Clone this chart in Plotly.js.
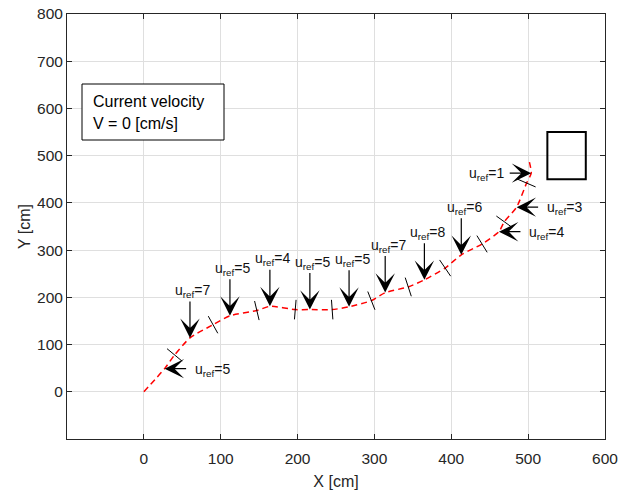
<!DOCTYPE html>
<html>
<head>
<meta charset="utf-8">
<script src="https://cdn.plot.ly/plotly-3.0.1.min.js"></script>
<style>
  html, body { margin: 0; padding: 0; background: #ffffff; }
  #chart { width: 621px; height: 491px; }
</style>
</head>
<body>
<div id="chart"></div>
<script>
// Vehicle trajectory (cm)
const pathX = [0, 27, 40, 60, 90, 112, 147, 164, 197, 216, 245, 267, 296, 314, 344, 365, 392, 413, 440, 462, 469, 485, 498, 504, 501];
const pathY = [0, 49, 78, 114, 142, 161, 172, 181, 174, 174, 174, 180, 193, 210, 222, 237, 262, 290, 313, 339, 360, 391, 442, 463, 491];

// Boundaries between trajectory segments
const segX = [40, 90, 147, 197, 245, 296, 344, 392, 440, 469, 498];
const segY = [78, 142, 172, 174, 174, 193, 222, 262, 313, 360, 442];

// Reference speed command issued at each point
const refX = [27, 60, 112, 164, 216, 267, 314, 365, 413, 462, 485, 504];
const refY = [49, 114, 161, 181, 174, 180, 210, 237, 290, 339, 391, 463];
const uRef = [5, 7, 5, 4, 5, 5, 7, 8, 6, 4, 3, 1];

// Target zone
const targetX = [525, 575];
const targetY = [450, 550];

// Axes
const xRange = [-100, 600];
const yRange = [-100, 800];
const xTicks = [0, 100, 200, 300, 400, 500, 600];
const yTicks = [0, 100, 200, 300, 400, 500, 600, 700, 800];

const currentSpeed = 0;

// ---- layout geometry ----
const W = 621, H = 491;
const M = { l: 67, r: 16, t: 14, b: 52 };
const plotW = W - M.l - M.r;
const plotH = H - M.t - M.b;
const pxPerX = plotW / (xRange[1] - xRange[0]);
const pxPerY = plotH / (yRange[1] - yRange[0]);

const FONT = '"Liberation Sans", Arial, Helvetica, sans-serif';
const INK = '#262626';

// Segment boundary ticks drawn perpendicular to the local path direction
const segAngles = segX.map((_, i) => {
  const dx = (refX[i + 1] - refX[i]) * pxPerX;
  const dy = -(refY[i + 1] - refY[i]) * pxPerY;
  return Math.atan2(dy, dx) * 180 / Math.PI;
});

// Direction each command arrow points
const arrowDir = ['left', 'down', 'down', 'down', 'down', 'down', 'down', 'down', 'down', 'left', 'left', 'right'];
const VLEN = 38, HLEN = 23;

const annotations = [];
uRef.forEach((u, i) => {
  const d = arrowDir[i];
  const ax = d === 'left' ? HLEN : d === 'right' ? -HLEN : 0;
  const ay = d === 'down' ? -VLEN : 0;
  annotations.push({
    x: refX[i], y: refY[i], xref: 'x', yref: 'y',
    ax: ax, ay: ay, text: '', showarrow: true,
    arrowhead: 3, arrowsize: 2.7, arrowwidth: 1.2, arrowcolor: '#000000', standoff: 0
  });
  const lab = {
    x: refX[i], y: refY[i], xref: 'x', yref: 'y', showarrow: false,
    text: 'u<sub>ref</sub>=' + u,
    font: { family: FONT, size: 14, color: '#111111' }
  };
  if (d === 'down') {
    Object.assign(lab, { xanchor: 'center', yanchor: 'bottom', xshift: 3, yshift: VLEN - 2 });
  } else if (d === 'left') {
    Object.assign(lab, { xanchor: 'left', yanchor: 'middle', xshift: HLEN + 5, yshift: -1 });
  } else {
    Object.assign(lab, { xanchor: 'right', yanchor: 'middle', xshift: -HLEN - 2, yshift: -1 });
  }
  annotations.push(lab);
});

// Info box text
annotations.push({
  xref: 'paper', yref: 'paper', x: (91 - M.l) / plotW, y: (H - M.b - 101) / plotH,
  xanchor: 'left', yanchor: 'middle', showarrow: false,
  text: 'Current velocity', font: { family: FONT, size: 16, color: '#000000' }
});
annotations.push({
  xref: 'paper', yref: 'paper', x: (91 - M.l) / plotW, y: (H - M.b - 124) / plotH,
  xanchor: 'left', yanchor: 'middle', showarrow: false,
  text: 'V = ' + currentSpeed + ' [cm/s]', font: { family: FONT, size: 16, color: '#000000' }
});

const shapes = [
  {
    type: 'rect', xref: 'x', yref: 'y',
    x0: targetX[0], x1: targetX[1], y0: targetY[0], y1: targetY[1],
    line: { color: '#000000', width: 2 }, fillcolor: 'rgba(0,0,0,0)'
  },
  {
    type: 'rect', xref: 'paper', yref: 'paper', layer: 'above',
    x0: (82 - M.l) / plotW, x1: (224 - M.l) / plotW,
    y0: (H - M.b - 140) / plotH, y1: (H - M.b - 84) / plotH,
    line: { color: '#000000', width: 1 }, fillcolor: '#ffffff'
  }
];

const traces = [
  {
    type: 'scatter', mode: 'lines', x: pathX, y: pathY,
    line: { color: '#ff0000', width: 1.5, dash: '6px,4px', shape: 'spline', smoothing: 0.6 },
    hoverinfo: 'skip'
  },
  {
    type: 'scatter', mode: 'markers', x: segX, y: segY,
    marker: {
      symbol: 'line-ns', size: 14, angle: segAngles, color: '#000000',
      line: { color: '#000000', width: 1 }
    },
    hoverinfo: 'skip'
  }
];

const axisCommon = {
  ticks: 'inside', ticklen: 5, tickwidth: 1, tickcolor: INK,
  showline: true, linecolor: INK, linewidth: 1, mirror: 'ticks',
  showgrid: true, gridcolor: '#dfdfdf', gridwidth: 1, zeroline: false,
  tickfont: { family: FONT, size: 15.5, color: INK }
};

const layout = {
  width: W, height: H, margin: M,
  paper_bgcolor: '#ffffff', plot_bgcolor: '#ffffff',
  showlegend: false,
  xaxis: Object.assign({}, axisCommon, {
    range: xRange, tickvals: xTicks, ticklabelstandoff: 5,
    title: { text: 'X [cm]', font: { family: FONT, size: 16, color: INK }, standoff: 10 }
  }),
  yaxis: Object.assign({}, axisCommon, {
    range: yRange, tickvals: yTicks,
    title: { text: 'Y [cm]', font: { family: FONT, size: 16, color: INK }, standoff: 2 }
  }),
  shapes: shapes,
  annotations: annotations
};

Plotly.newPlot('chart', traces, layout, { staticPlot: true, displayModeBar: false });
</script>
</body>
</html>
